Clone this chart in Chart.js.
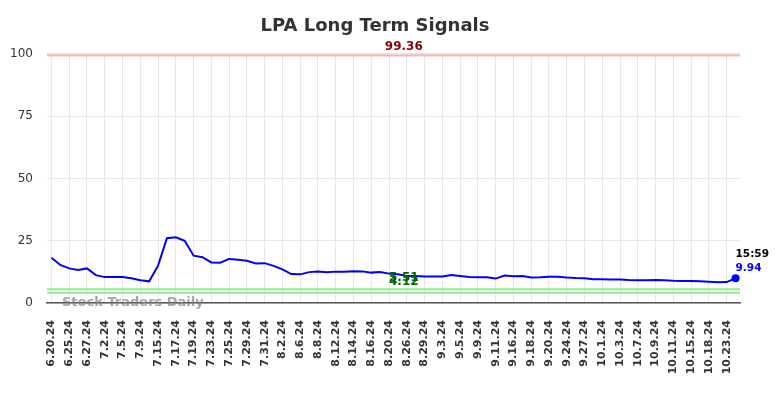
<!DOCTYPE html>
<html>
<head>
<meta charset="utf-8">
<script src="https://cdn.jsdelivr.net/npm/chart.js@4"></script>
<style>
  html, body { margin: 0; padding: 0; background: #fff; }
  #wrap { width: 784px; height: 398px; position: relative; }
</style>
</head>
<body>
<div id="wrap"><canvas id="c" width="784" height="398"></canvas></div>
<script>
const titleText = 'LPA Long Term Signals';
const dates = [
  '6.20.24','6.21.24','6.25.24','6.26.24','6.27.24','6.28.24','7.2.24','7.3.24','7.5.24','7.8.24',
  '7.9.24','7.12.24','7.15.24','7.16.24','7.17.24','7.18.24','7.19.24','7.22.24','7.23.24','7.24.24',
  '7.25.24','7.26.24','7.29.24','7.30.24','7.31.24','8.1.24','8.2.24','8.5.24','8.6.24','8.7.24',
  '8.8.24','8.9.24','8.12.24','8.13.24','8.14.24','8.15.24','8.16.24','8.19.24','8.20.24','8.23.24',
  '8.26.24','8.27.24','8.29.24','8.30.24','9.3.24','9.4.24','9.5.24','9.6.24','9.9.24','9.10.24',
  '9.11.24','9.13.24','9.16.24','9.17.24','9.18.24','9.19.24','9.20.24','9.23.24','9.24.24','9.26.24',
  '9.27.24','9.30.24','10.1.24','10.2.24','10.3.24','10.4.24','10.7.24','10.8.24','10.9.24','10.10.24',
  '10.11.24','10.14.24','10.15.24','10.17.24','10.18.24','10.22.24','10.23.24','10.24.24'
];
const signalValues = [
  18.2, 15.3, 13.9, 13.3, 13.9, 11.2, 10.4, 10.4, 10.4, 9.9,
  9.1, 8.7, 15.0, 26.0, 26.4, 25.0, 19.0, 18.4, 16.3, 16.2,
  17.7, 17.4, 17.0, 15.9, 16.0, 14.9, 13.5, 11.6, 11.5, 12.4,
  12.6, 12.4, 12.6, 12.6, 12.8, 12.7, 12.2, 12.4, 11.8, 11.5,
  10.8, 10.8, 10.6, 10.6, 10.6, 11.2, 10.8, 10.4, 10.3, 10.3,
  9.8, 11.0, 10.7, 10.8, 10.2, 10.3, 10.5, 10.5, 10.2, 10.0,
  9.9, 9.5, 9.5, 9.4, 9.4, 9.2, 9.1, 9.1, 9.2, 9.1,
  8.9, 8.8, 8.8, 8.7, 8.5, 8.3, 8.4, 9.94
];
const yTicks = [0, 25, 50, 75, 100];
const resistanceLevels = [99.36];
const supportLevels = [5.51, 4.12];
const levelLabelIndex = 40;
const lastTime = '15:59';
const watermark = 'Stock Traders Daily';

const FONT = "'DejaVu Sans', sans-serif";
const lastIdx = signalValues.length - 1;

const overlay = {
  id: 'overlay',
  beforeDatasetsDraw(chart) {
    const {ctx, chartArea: a, scales: {y}} = chart;
    ctx.save();
    resistanceLevels.forEach(v => {
      const py = y.getPixelForValue(v);
      ctx.strokeStyle = 'rgba(255,0,0,0.12)';
      ctx.lineWidth = 4;
      ctx.beginPath(); ctx.moveTo(a.left, py - 0.5); ctx.lineTo(a.right, py - 0.5); ctx.stroke();
      ctx.strokeStyle = 'rgba(255,120,120,0.45)';
      ctx.lineWidth = 1;
      ctx.beginPath(); ctx.moveTo(a.left, py); ctx.lineTo(a.right, py); ctx.stroke();
    });
    supportLevels.forEach(v => {
      const py = y.getPixelForValue(v);
      ctx.strokeStyle = '#90ee90';
      ctx.lineWidth = 2;
      ctx.beginPath(); ctx.moveTo(a.left, py); ctx.lineTo(a.right, py); ctx.stroke();
    });
    ctx.restore();
  },
  afterDraw(chart) {
    const {ctx, chartArea: a, scales: {x, y}} = chart;
    ctx.save();
    ctx.fillStyle = '#333';
    ctx.font = 'bold 18px ' + FONT;
    ctx.textAlign = 'center';
    ctx.textBaseline = 'middle';
    ctx.fillText(titleText, 375, 26);
    const lx = x.getPixelForValue(levelLabelIndex) - 3;
    ctx.font = 'bold 12px ' + FONT;
    ctx.textBaseline = 'bottom';
    ctx.fillStyle = '#8b0000';
    resistanceLevels.forEach(v => ctx.fillText(v.toFixed(2), lx, y.getPixelForValue(v) - 2.5));
    ctx.fillStyle = '#006400';
    supportLevels.forEach(v => ctx.fillText(v.toFixed(2), lx, y.getPixelForValue(v) - 5));
    const px = x.getPixelForValue(lastIdx);
    const py = y.getPixelForValue(signalValues[lastIdx]);
    ctx.textAlign = 'left';
    ctx.textBaseline = 'middle';
    ctx.font = 'bold 10.5px ' + FONT;
    ctx.fillStyle = '#000';
    ctx.fillText(lastTime, px, py - 24);
    ctx.fillStyle = '#0000ff';
    ctx.fillText(signalValues[lastIdx].toFixed(2), px, py - 10);
    ctx.font = 'bold 13px ' + FONT;
    ctx.fillStyle = 'rgba(128,128,128,0.7)';
    ctx.textAlign = 'left';
    ctx.fillText(watermark, 62, a.bottom);
    ctx.restore();
  }
};

new Chart(document.getElementById('c'), {
  type: 'line',
  data: {
    labels: dates,
    datasets: [{
      data: signalValues,
      borderColor: '#0000ff',
      backgroundColor: '#0000ff',
      borderWidth: 2,
      tension: 0,
      fill: false,
      pointRadius: c => c.dataIndex === lastIdx ? 4 : 0,
      pointHoverRadius: 0,
      pointBackgroundColor: '#0000ff',
      pointBorderWidth: 0
    }]
  },
  options: {
    responsive: false,
    animation: false,
    devicePixelRatio: 1,
    layout: { padding: { top: 54, right: 44, left: 0, bottom: 0 } },
    plugins: { legend: { display: false }, title: { display: false }, tooltip: { enabled: false } },
    scales: {
      x: {
        type: 'category',
        offset: true,
        afterFit: s => { s.height = 95; },
        grid: { color: '#e8e8e8', lineWidth: 1, drawTicks: false, offset: false },
        border: { display: true, color: '#555', width: 1.5 },
        ticks: {
          autoSkip: false,
          minRotation: 90,
          maxRotation: 90,
          padding: 17,
          color: '#333',
          font: { family: FONT, size: 11, weight: 'bold' },
          callback: function(v, i) { return i % 2 === 0 ? this.getLabelForValue(v) : null; }
        }
      },
      y: {
        min: 0,
        max: 100,
        afterFit: s => { s.width = 47; },
        afterBuildTicks: s => { s.ticks = yTicks.map(v => ({ value: v })); },
        grid: { color: '#e8e8e8', lineWidth: 1, drawTicks: false },
        border: { display: false },
        ticks: {
          padding: 14,
          color: '#333',
          font: { family: FONT, size: 12 }
        }
      }
    }
  },
  plugins: [overlay]
});
</script>
</body>
</html>
